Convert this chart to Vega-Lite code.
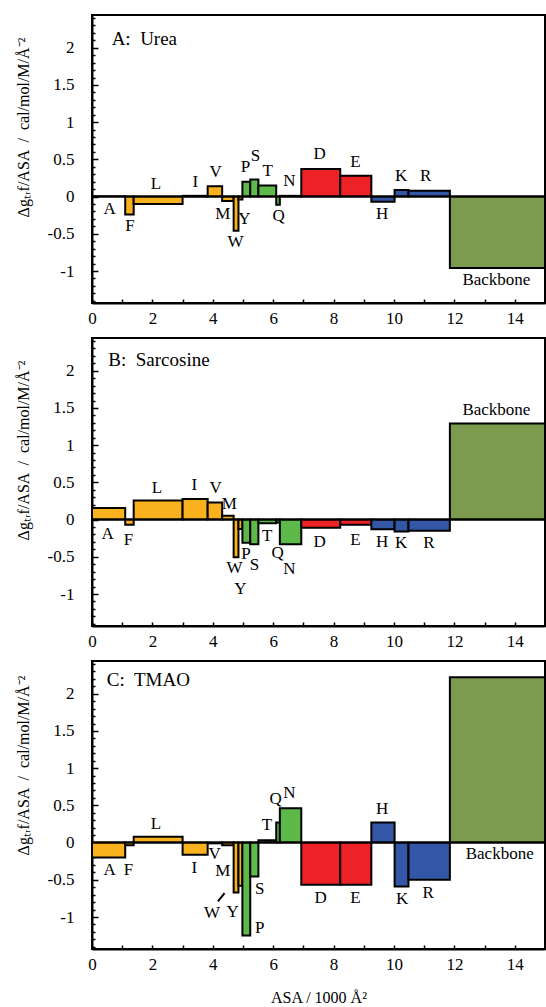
{
"$schema":"https://vega.github.io/schema/vega-lite/v6.json",
"padding":{"left":14,"top":7,"right":0,"bottom":0},
"bounds":"flush",
"spacing":35,
"datasets":{
"bars":[
{"panel":"A","r":"A","x0":0,"x1":1.10,"grp":"np","v":0.005},
{"panel":"A","r":"F","x0":1.10,"x1":1.38,"grp":"np","v":-0.24},
{"panel":"A","r":"L","x0":1.38,"x1":3.00,"grp":"np","v":-0.10},
{"panel":"A","r":"I","x0":3.00,"x1":3.83,"grp":"np","v":0.01},
{"panel":"A","r":"V","x0":3.83,"x1":4.31,"grp":"np","v":0.14},
{"panel":"A","r":"M","x0":4.31,"x1":4.69,"grp":"np","v":-0.06},
{"panel":"A","r":"W","x0":4.69,"x1":4.85,"grp":"np","v":-0.46},
{"panel":"A","r":"Y","x0":4.85,"x1":4.98,"grp":"np","v":-0.04},
{"panel":"A","r":"P","x0":4.98,"x1":5.24,"grp":"p","v":0.20},
{"panel":"A","r":"S","x0":5.24,"x1":5.51,"grp":"p","v":0.23},
{"panel":"A","r":"T","x0":5.51,"x1":6.10,"grp":"p","v":0.15},
{"panel":"A","r":"Q","x0":6.10,"x1":6.22,"grp":"p","v":-0.11},
{"panel":"A","r":"N","x0":6.22,"x1":6.93,"grp":"p","v":0.01},
{"panel":"A","r":"D","x0":6.93,"x1":8.22,"grp":"neg","v":0.37},
{"panel":"A","r":"E","x0":8.22,"x1":9.25,"grp":"neg","v":0.28},
{"panel":"A","r":"H","x0":9.25,"x1":10.02,"grp":"pos","v":-0.07},
{"panel":"A","r":"K","x0":10.02,"x1":10.48,"grp":"pos","v":0.09},
{"panel":"A","r":"R","x0":10.48,"x1":11.85,"grp":"pos","v":0.08},
{"panel":"A","r":"Backbone","x0":11.85,"x1":15,"grp":"bb","v":-0.96},
{"panel":"B","r":"A","x0":0,"x1":1.10,"grp":"np","v":0.155},
{"panel":"B","r":"F","x0":1.10,"x1":1.38,"grp":"np","v":-0.07},
{"panel":"B","r":"L","x0":1.38,"x1":3.00,"grp":"np","v":0.255},
{"panel":"B","r":"I","x0":3.00,"x1":3.83,"grp":"np","v":0.275},
{"panel":"B","r":"V","x0":3.83,"x1":4.31,"grp":"np","v":0.23},
{"panel":"B","r":"M","x0":4.31,"x1":4.69,"grp":"np","v":0.05},
{"panel":"B","r":"W","x0":4.69,"x1":4.85,"grp":"np","v":-0.505},
{"panel":"B","r":"Y","x0":4.85,"x1":4.98,"grp":"np","v":-0.125},
{"panel":"B","r":"P","x0":4.98,"x1":5.24,"grp":"p","v":-0.31},
{"panel":"B","r":"S","x0":5.24,"x1":5.51,"grp":"p","v":-0.33},
{"panel":"B","r":"T","x0":5.51,"x1":6.10,"grp":"p","v":-0.05},
{"panel":"B","r":"Q","x0":6.10,"x1":6.22,"grp":"p","v":-0.04},
{"panel":"B","r":"N","x0":6.22,"x1":6.93,"grp":"p","v":-0.33},
{"panel":"B","r":"D","x0":6.93,"x1":8.22,"grp":"neg","v":-0.11},
{"panel":"B","r":"E","x0":8.22,"x1":9.25,"grp":"neg","v":-0.07},
{"panel":"B","r":"H","x0":9.25,"x1":10.02,"grp":"pos","v":-0.13},
{"panel":"B","r":"K","x0":10.02,"x1":10.48,"grp":"pos","v":-0.16},
{"panel":"B","r":"R","x0":10.48,"x1":11.85,"grp":"pos","v":-0.15},
{"panel":"B","r":"Backbone","x0":11.85,"x1":15,"grp":"bb","v":1.29},
{"panel":"C","r":"A","x0":0,"x1":1.10,"grp":"np","v":-0.20},
{"panel":"C","r":"F","x0":1.10,"x1":1.38,"grp":"np","v":-0.035},
{"panel":"C","r":"L","x0":1.38,"x1":3.00,"grp":"np","v":0.08},
{"panel":"C","r":"I","x0":3.00,"x1":3.83,"grp":"np","v":-0.165},
{"panel":"C","r":"V","x0":3.83,"x1":4.31,"grp":"np","v":-0.01},
{"panel":"C","r":"M","x0":4.31,"x1":4.69,"grp":"np","v":-0.035},
{"panel":"C","r":"W","x0":4.69,"x1":4.85,"grp":"np","v":-0.67},
{"panel":"C","r":"Y","x0":4.85,"x1":4.98,"grp":"np","v":-0.58},
{"panel":"C","r":"P","x0":4.98,"x1":5.24,"grp":"p","v":-1.25},
{"panel":"C","r":"S","x0":5.24,"x1":5.51,"grp":"p","v":-0.455},
{"panel":"C","r":"T","x0":5.51,"x1":6.10,"grp":"p","v":0.03},
{"panel":"C","r":"Q","x0":6.10,"x1":6.22,"grp":"p","v":0.27},
{"panel":"C","r":"N","x0":6.22,"x1":6.93,"grp":"p","v":0.46},
{"panel":"C","r":"D","x0":6.93,"x1":8.22,"grp":"neg","v":-0.567},
{"panel":"C","r":"E","x0":8.22,"x1":9.25,"grp":"neg","v":-0.567},
{"panel":"C","r":"H","x0":9.25,"x1":10.02,"grp":"pos","v":0.27},
{"panel":"C","r":"K","x0":10.02,"x1":10.48,"grp":"pos","v":-0.59},
{"panel":"C","r":"R","x0":10.48,"x1":11.85,"grp":"pos","v":-0.50},
{"panel":"C","r":"Backbone","x0":11.85,"x1":15,"grp":"bb","v":2.22}
],
"labels":[
{"panel":"A","t":"A","lx":0.58,"ly":-0.17},{"panel":"A","t":"F","lx":1.26,"ly":-0.39},{"panel":"A","t":"L","lx":2.12,"ly":0.165},{"panel":"A","t":"I","lx":3.42,"ly":0.20},{"panel":"A","t":"V","lx":4.09,"ly":0.33},{"panel":"A","t":"M","lx":4.33,"ly":-0.23},{"panel":"A","t":"W","lx":4.75,"ly":-0.61},{"panel":"A","t":"Y","lx":5.05,"ly":-0.30},{"panel":"A","t":"P","lx":5.08,"ly":0.40},{"panel":"A","t":"S","lx":5.41,"ly":0.55},{"panel":"A","t":"T","lx":5.82,"ly":0.34},{"panel":"A","t":"N","lx":6.54,"ly":0.21},{"panel":"A","t":"Q","lx":6.18,"ly":-0.26},{"panel":"A","t":"D","lx":7.54,"ly":0.57},{"panel":"A","t":"E","lx":8.72,"ly":0.47},{"panel":"A","t":"H","lx":9.61,"ly":-0.24},{"panel":"A","t":"K","lx":10.24,"ly":0.28},{"panel":"A","t":"R","lx":11.05,"ly":0.28},{"panel":"A","t":"Backbone","lx":13.39,"ly":-1.12},
{"panel":"B","t":"A","lx":0.52,"ly":-0.19},{"panel":"B","t":"F","lx":1.21,"ly":-0.28},{"panel":"B","t":"L","lx":2.15,"ly":0.43},{"panel":"B","t":"I","lx":3.39,"ly":0.47},{"panel":"B","t":"V","lx":4.09,"ly":0.43},{"panel":"B","t":"M","lx":4.55,"ly":0.21},{"panel":"B","t":"W","lx":4.72,"ly":-0.65},{"panel":"B","t":"Y","lx":4.91,"ly":-0.93},{"panel":"B","t":"P","lx":5.10,"ly":-0.46},{"panel":"B","t":"S","lx":5.38,"ly":-0.61},{"panel":"B","t":"T","lx":5.80,"ly":-0.22},{"panel":"B","t":"Q","lx":6.15,"ly":-0.45},{"panel":"B","t":"N","lx":6.54,"ly":-0.66},{"panel":"B","t":"D","lx":7.54,"ly":-0.30},{"panel":"B","t":"E","lx":8.72,"ly":-0.27},{"panel":"B","t":"H","lx":9.61,"ly":-0.30},{"panel":"B","t":"K","lx":10.24,"ly":-0.32},{"panel":"B","t":"R","lx":11.16,"ly":-0.32},{"panel":"B","t":"Backbone","lx":13.39,"ly":1.47},
{"panel":"C","t":"A","lx":0.58,"ly":-0.37},{"panel":"C","t":"F","lx":1.21,"ly":-0.37},{"panel":"C","t":"L","lx":2.12,"ly":0.25},{"panel":"C","t":"I","lx":3.39,"ly":-0.335},{"panel":"C","t":"V","lx":4.06,"ly":-0.15},{"panel":"C","t":"M","lx":4.33,"ly":-0.38},{"panel":"C","t":"W","lx":3.97,"ly":-0.95},{"panel":"C","t":"Y","lx":4.66,"ly":-0.93},{"panel":"C","t":"P","lx":5.55,"ly":-1.15},{"panel":"C","t":"S","lx":5.55,"ly":-0.62},{"panel":"C","t":"T","lx":5.79,"ly":0.24},{"panel":"C","t":"Q","lx":6.08,"ly":0.58},{"panel":"C","t":"N","lx":6.54,"ly":0.67},{"panel":"C","t":"D","lx":7.57,"ly":-0.74},{"panel":"C","t":"E","lx":8.72,"ly":-0.74},{"panel":"C","t":"H","lx":9.61,"ly":0.45},{"panel":"C","t":"K","lx":10.27,"ly":-0.76},{"panel":"C","t":"R","lx":11.13,"ly":-0.68},{"panel":"C","t":"Backbone","lx":13.5,"ly":-0.155}
],
"titles":[
{"panel":"A","t":"A:\u00a0 Urea","lx":0.65,"ly":2.12},
{"panel":"B","t":"B:\u00a0 Sarcosine","lx":0.54,"ly":2.15},
{"panel":"C","t":"C:\u00a0 TMAO","lx":0.49,"ly":2.19}
],
"pointer":[{"px":4.17,"py":-0.79,"px2":4.39,"py2":-0.68}]
},
"vconcat":[
{"width":453,"height":288,"layer":[
{"data":{"name":"bars"},"transform":[{"filter":"datum.panel==='A'"}],"mark":{"type":"rect","stroke":"black","strokeWidth":2},
"encoding":{
"x":{"field":"x0","type":"quantitative","scale":{"domain":[0,15],"nice":false,"zero":false},"axis":{"values":[0,1,2,3,4,5,6,7,8,9,10,11,12,13,14,15],"tickSize":-4,"labelExpr":"datum.value%2===0 && datum.value<15 ? datum.label : ''","labelPadding":11,"labelOverlap":false,"title":null}},
"x2":{"field":"x1"},
"y":{"field":"v","type":"quantitative","scale":{"domain":[-1.43,2.44],"nice":false,"zero":false},"axis":{"values":[-1.4,-1.3,-1.2,-1.1,-1,-0.9,-0.8,-0.7,-0.6,-0.5,-0.4,-0.3,-0.2,-0.1,0,0.1,0.2,0.3,0.4,0.5,0.6,0.7,0.8,0.9,1,1.1,1.2,1.3,1.4,1.5,1.6,1.7,1.8,1.9,2,2.1,2.2,2.3,2.4],"tickSize":{"condition":{"test":"abs(datum.value*2-round(datum.value*2))<0.001","value":-6},"value":-3},"labelExpr":"abs(datum.value*2-round(datum.value*2))<0.001 ? ''+round(datum.value*10)/10 : ''","labelPadding":24,"labelOverlap":false,"title":"Δgₜᵣf/ASA \u00a0/\u00a0 cal/mol/M/Å⁻²","titlePadding":16,"titleY":112}},
"y2":{"datum":0},
"color":{"field":"grp","type":"nominal","scale":{"domain":["np","p","neg","pos","bb"],"range":["#F9B21D","#5CB94A","#EC2227","#3456A6","#7C9B4F"]},"legend":null}}},
{"data":{"name":"titles"},"transform":[{"filter":"datum.panel==='A'"}],"mark":{"type":"rule","color":"black","strokeWidth":2},"encoding":{"y":{"datum":0,"type":"quantitative","axis":{"values":[-1.4,-1.3,-1.2,-1.1,-1,-0.9,-0.8,-0.7,-0.6,-0.5,-0.4,-0.3,-0.2,-0.1,0,0.1,0.2,0.3,0.4,0.5,0.6,0.7,0.8,0.9,1,1.1,1.2,1.3,1.4,1.5,1.6,1.7,1.8,1.9,2,2.1,2.2,2.3,2.4],"tickSize":{"condition":{"test":"abs(datum.value*2-round(datum.value*2))<0.001","value":-6},"value":-3},"labelExpr":"abs(datum.value*2-round(datum.value*2))<0.001 ? ''+round(datum.value*10)/10 : ''","labelPadding":24,"labelOverlap":false,"title":"Δgₜᵣf/ASA \u00a0/\u00a0 cal/mol/M/Å⁻²","titlePadding":16,"titleY":112}}}},
{"data":{"name":"labels"},"transform":[{"filter":"datum.panel==='A'"}],"mark":{"type":"text","fontSize":17,"align":"center","baseline":"middle","font":"Liberation Serif","color":"black"},"encoding":{
"x":{"field":"lx","type":"quantitative","axis":{"values":[0,1,2,3,4,5,6,7,8,9,10,11,12,13,14,15],"tickSize":-4,"labelExpr":"datum.value%2===0 && datum.value<15 ? datum.label : ''","labelPadding":11,"labelOverlap":false,"title":null}},
"y":{"field":"ly","type":"quantitative","axis":{"values":[-1.4,-1.3,-1.2,-1.1,-1,-0.9,-0.8,-0.7,-0.6,-0.5,-0.4,-0.3,-0.2,-0.1,0,0.1,0.2,0.3,0.4,0.5,0.6,0.7,0.8,0.9,1,1.1,1.2,1.3,1.4,1.5,1.6,1.7,1.8,1.9,2,2.1,2.2,2.3,2.4],"tickSize":{"condition":{"test":"abs(datum.value*2-round(datum.value*2))<0.001","value":-6},"value":-3},"labelExpr":"abs(datum.value*2-round(datum.value*2))<0.001 ? ''+round(datum.value*10)/10 : ''","labelPadding":24,"labelOverlap":false,"title":"Δgₜᵣf/ASA \u00a0/\u00a0 cal/mol/M/Å⁻²","titlePadding":16,"titleY":112}},
"text":{"field":"t"}}},
{"data":{"name":"titles"},"transform":[{"filter":"datum.panel==='A'"}],"mark":{"type":"text","fontSize":19,"align":"left","baseline":"middle","font":"Liberation Serif","color":"black"},"encoding":{
"x":{"field":"lx","type":"quantitative","axis":{"values":[0,1,2,3,4,5,6,7,8,9,10,11,12,13,14,15],"tickSize":-4,"labelExpr":"datum.value%2===0 && datum.value<15 ? datum.label : ''","labelPadding":11,"labelOverlap":false,"title":null}},
"y":{"field":"ly","type":"quantitative","axis":{"values":[-1.4,-1.3,-1.2,-1.1,-1,-0.9,-0.8,-0.7,-0.6,-0.5,-0.4,-0.3,-0.2,-0.1,0,0.1,0.2,0.3,0.4,0.5,0.6,0.7,0.8,0.9,1,1.1,1.2,1.3,1.4,1.5,1.6,1.7,1.8,1.9,2,2.1,2.2,2.3,2.4],"tickSize":{"condition":{"test":"abs(datum.value*2-round(datum.value*2))<0.001","value":-6},"value":-3},"labelExpr":"abs(datum.value*2-round(datum.value*2))<0.001 ? ''+round(datum.value*10)/10 : ''","labelPadding":24,"labelOverlap":false,"title":"Δgₜᵣf/ASA \u00a0/\u00a0 cal/mol/M/Å⁻²","titlePadding":16,"titleY":112}},
"text":{"field":"t"}}}
]},
{"width":453,"height":288,"layer":[
{"data":{"name":"bars"},"transform":[{"filter":"datum.panel==='B'"}],"mark":{"type":"rect","stroke":"black","strokeWidth":2},
"encoding":{
"x":{"field":"x0","type":"quantitative","scale":{"domain":[0,15],"nice":false,"zero":false},"axis":{"values":[0,1,2,3,4,5,6,7,8,9,10,11,12,13,14,15],"tickSize":-4,"labelExpr":"datum.value%2===0 && datum.value<15 ? datum.label : ''","labelPadding":11,"labelOverlap":false,"title":null}},
"x2":{"field":"x1"},
"y":{"field":"v","type":"quantitative","scale":{"domain":[-1.43,2.44],"nice":false,"zero":false},"axis":{"values":[-1.4,-1.3,-1.2,-1.1,-1,-0.9,-0.8,-0.7,-0.6,-0.5,-0.4,-0.3,-0.2,-0.1,0,0.1,0.2,0.3,0.4,0.5,0.6,0.7,0.8,0.9,1,1.1,1.2,1.3,1.4,1.5,1.6,1.7,1.8,1.9,2,2.1,2.2,2.3,2.4],"tickSize":{"condition":{"test":"abs(datum.value*2-round(datum.value*2))<0.001","value":-6},"value":-3},"labelExpr":"abs(datum.value*2-round(datum.value*2))<0.001 ? ''+round(datum.value*10)/10 : ''","labelPadding":24,"labelOverlap":false,"title":"Δgₜᵣf/ASA \u00a0/\u00a0 cal/mol/M/Å⁻²","titlePadding":16,"titleY":112}},
"y2":{"datum":0},
"color":{"field":"grp","type":"nominal","scale":{"domain":["np","p","neg","pos","bb"],"range":["#F9B21D","#5CB94A","#EC2227","#3456A6","#7C9B4F"]},"legend":null}}},
{"data":{"name":"titles"},"transform":[{"filter":"datum.panel==='B'"}],"mark":{"type":"rule","color":"black","strokeWidth":2},"encoding":{"y":{"datum":0,"type":"quantitative","axis":{"values":[-1.4,-1.3,-1.2,-1.1,-1,-0.9,-0.8,-0.7,-0.6,-0.5,-0.4,-0.3,-0.2,-0.1,0,0.1,0.2,0.3,0.4,0.5,0.6,0.7,0.8,0.9,1,1.1,1.2,1.3,1.4,1.5,1.6,1.7,1.8,1.9,2,2.1,2.2,2.3,2.4],"tickSize":{"condition":{"test":"abs(datum.value*2-round(datum.value*2))<0.001","value":-6},"value":-3},"labelExpr":"abs(datum.value*2-round(datum.value*2))<0.001 ? ''+round(datum.value*10)/10 : ''","labelPadding":24,"labelOverlap":false,"title":"Δgₜᵣf/ASA \u00a0/\u00a0 cal/mol/M/Å⁻²","titlePadding":16,"titleY":112}}}},
{"data":{"name":"labels"},"transform":[{"filter":"datum.panel==='B'"}],"mark":{"type":"text","fontSize":17,"align":"center","baseline":"middle","font":"Liberation Serif","color":"black"},"encoding":{
"x":{"field":"lx","type":"quantitative","axis":{"values":[0,1,2,3,4,5,6,7,8,9,10,11,12,13,14,15],"tickSize":-4,"labelExpr":"datum.value%2===0 && datum.value<15 ? datum.label : ''","labelPadding":11,"labelOverlap":false,"title":null}},
"y":{"field":"ly","type":"quantitative","axis":{"values":[-1.4,-1.3,-1.2,-1.1,-1,-0.9,-0.8,-0.7,-0.6,-0.5,-0.4,-0.3,-0.2,-0.1,0,0.1,0.2,0.3,0.4,0.5,0.6,0.7,0.8,0.9,1,1.1,1.2,1.3,1.4,1.5,1.6,1.7,1.8,1.9,2,2.1,2.2,2.3,2.4],"tickSize":{"condition":{"test":"abs(datum.value*2-round(datum.value*2))<0.001","value":-6},"value":-3},"labelExpr":"abs(datum.value*2-round(datum.value*2))<0.001 ? ''+round(datum.value*10)/10 : ''","labelPadding":24,"labelOverlap":false,"title":"Δgₜᵣf/ASA \u00a0/\u00a0 cal/mol/M/Å⁻²","titlePadding":16,"titleY":112}},
"text":{"field":"t"}}},
{"data":{"name":"titles"},"transform":[{"filter":"datum.panel==='B'"}],"mark":{"type":"text","fontSize":19,"align":"left","baseline":"middle","font":"Liberation Serif","color":"black"},"encoding":{
"x":{"field":"lx","type":"quantitative","axis":{"values":[0,1,2,3,4,5,6,7,8,9,10,11,12,13,14,15],"tickSize":-4,"labelExpr":"datum.value%2===0 && datum.value<15 ? datum.label : ''","labelPadding":11,"labelOverlap":false,"title":null}},
"y":{"field":"ly","type":"quantitative","axis":{"values":[-1.4,-1.3,-1.2,-1.1,-1,-0.9,-0.8,-0.7,-0.6,-0.5,-0.4,-0.3,-0.2,-0.1,0,0.1,0.2,0.3,0.4,0.5,0.6,0.7,0.8,0.9,1,1.1,1.2,1.3,1.4,1.5,1.6,1.7,1.8,1.9,2,2.1,2.2,2.3,2.4],"tickSize":{"condition":{"test":"abs(datum.value*2-round(datum.value*2))<0.001","value":-6},"value":-3},"labelExpr":"abs(datum.value*2-round(datum.value*2))<0.001 ? ''+round(datum.value*10)/10 : ''","labelPadding":24,"labelOverlap":false,"title":"Δgₜᵣf/ASA \u00a0/\u00a0 cal/mol/M/Å⁻²","titlePadding":16,"titleY":112}},
"text":{"field":"t"}}}
]},
{"width":453,"height":288,"layer":[
{"data":{"name":"bars"},"transform":[{"filter":"datum.panel==='C'"}],"mark":{"type":"rect","stroke":"black","strokeWidth":2},
"encoding":{
"x":{"field":"x0","type":"quantitative","scale":{"domain":[0,15],"nice":false,"zero":false},"axis":{"values":[0,1,2,3,4,5,6,7,8,9,10,11,12,13,14,15],"tickSize":-4,"labelExpr":"datum.value%2===0 && datum.value<15 ? datum.label : ''","labelPadding":11,"labelOverlap":false,"title":"ASA / 1000 Å²","titlePadding":17}},
"x2":{"field":"x1"},
"y":{"field":"v","type":"quantitative","scale":{"domain":[-1.43,2.44],"nice":false,"zero":false},"axis":{"values":[-1.4,-1.3,-1.2,-1.1,-1,-0.9,-0.8,-0.7,-0.6,-0.5,-0.4,-0.3,-0.2,-0.1,0,0.1,0.2,0.3,0.4,0.5,0.6,0.7,0.8,0.9,1,1.1,1.2,1.3,1.4,1.5,1.6,1.7,1.8,1.9,2,2.1,2.2,2.3,2.4],"tickSize":{"condition":{"test":"abs(datum.value*2-round(datum.value*2))<0.001","value":-6},"value":-3},"labelExpr":"abs(datum.value*2-round(datum.value*2))<0.001 ? ''+round(datum.value*10)/10 : ''","labelPadding":24,"labelOverlap":false,"title":"Δgₜᵣf/ASA \u00a0/\u00a0 cal/mol/M/Å⁻²","titlePadding":16,"titleY":104}},
"y2":{"datum":0},
"color":{"field":"grp","type":"nominal","scale":{"domain":["np","p","neg","pos","bb"],"range":["#F9B21D","#5CB94A","#EC2227","#3456A6","#7C9B4F"]},"legend":null}}},
{"data":{"name":"titles"},"transform":[{"filter":"datum.panel==='C'"}],"mark":{"type":"rule","color":"black","strokeWidth":2},"encoding":{"y":{"datum":0,"type":"quantitative","axis":{"values":[-1.4,-1.3,-1.2,-1.1,-1,-0.9,-0.8,-0.7,-0.6,-0.5,-0.4,-0.3,-0.2,-0.1,0,0.1,0.2,0.3,0.4,0.5,0.6,0.7,0.8,0.9,1,1.1,1.2,1.3,1.4,1.5,1.6,1.7,1.8,1.9,2,2.1,2.2,2.3,2.4],"tickSize":{"condition":{"test":"abs(datum.value*2-round(datum.value*2))<0.001","value":-6},"value":-3},"labelExpr":"abs(datum.value*2-round(datum.value*2))<0.001 ? ''+round(datum.value*10)/10 : ''","labelPadding":24,"labelOverlap":false,"title":"Δgₜᵣf/ASA \u00a0/\u00a0 cal/mol/M/Å⁻²","titlePadding":16,"titleY":104}}}},
{"data":{"name":"pointer"},"mark":{"type":"rule","color":"black","strokeWidth":2},"encoding":{
"x":{"field":"px","type":"quantitative","axis":{"values":[0,1,2,3,4,5,6,7,8,9,10,11,12,13,14,15],"tickSize":-4,"labelExpr":"datum.value%2===0 && datum.value<15 ? datum.label : ''","labelPadding":11,"labelOverlap":false,"title":"ASA / 1000 Å²","titlePadding":17}},
"y":{"field":"py","type":"quantitative","axis":{"values":[-1.4,-1.3,-1.2,-1.1,-1,-0.9,-0.8,-0.7,-0.6,-0.5,-0.4,-0.3,-0.2,-0.1,0,0.1,0.2,0.3,0.4,0.5,0.6,0.7,0.8,0.9,1,1.1,1.2,1.3,1.4,1.5,1.6,1.7,1.8,1.9,2,2.1,2.2,2.3,2.4],"tickSize":{"condition":{"test":"abs(datum.value*2-round(datum.value*2))<0.001","value":-6},"value":-3},"labelExpr":"abs(datum.value*2-round(datum.value*2))<0.001 ? ''+round(datum.value*10)/10 : ''","labelPadding":24,"labelOverlap":false,"title":"Δgₜᵣf/ASA \u00a0/\u00a0 cal/mol/M/Å⁻²","titlePadding":16,"titleY":104}},
"x2":{"field":"px2"},"y2":{"field":"py2"}}},
{"data":{"name":"labels"},"transform":[{"filter":"datum.panel==='C'"}],"mark":{"type":"text","fontSize":17,"align":"center","baseline":"middle","font":"Liberation Serif","color":"black"},"encoding":{
"x":{"field":"lx","type":"quantitative","axis":{"values":[0,1,2,3,4,5,6,7,8,9,10,11,12,13,14,15],"tickSize":-4,"labelExpr":"datum.value%2===0 && datum.value<15 ? datum.label : ''","labelPadding":11,"labelOverlap":false,"title":"ASA / 1000 Å²","titlePadding":17}},
"y":{"field":"ly","type":"quantitative","axis":{"values":[-1.4,-1.3,-1.2,-1.1,-1,-0.9,-0.8,-0.7,-0.6,-0.5,-0.4,-0.3,-0.2,-0.1,0,0.1,0.2,0.3,0.4,0.5,0.6,0.7,0.8,0.9,1,1.1,1.2,1.3,1.4,1.5,1.6,1.7,1.8,1.9,2,2.1,2.2,2.3,2.4],"tickSize":{"condition":{"test":"abs(datum.value*2-round(datum.value*2))<0.001","value":-6},"value":-3},"labelExpr":"abs(datum.value*2-round(datum.value*2))<0.001 ? ''+round(datum.value*10)/10 : ''","labelPadding":24,"labelOverlap":false,"title":"Δgₜᵣf/ASA \u00a0/\u00a0 cal/mol/M/Å⁻²","titlePadding":16,"titleY":104}},
"text":{"field":"t"}}},
{"data":{"name":"titles"},"transform":[{"filter":"datum.panel==='C'"}],"mark":{"type":"text","fontSize":19,"align":"left","baseline":"middle","font":"Liberation Serif","color":"black"},"encoding":{
"x":{"field":"lx","type":"quantitative","axis":{"values":[0,1,2,3,4,5,6,7,8,9,10,11,12,13,14,15],"tickSize":-4,"labelExpr":"datum.value%2===0 && datum.value<15 ? datum.label : ''","labelPadding":11,"labelOverlap":false,"title":"ASA / 1000 Å²","titlePadding":17}},
"y":{"field":"ly","type":"quantitative","axis":{"values":[-1.4,-1.3,-1.2,-1.1,-1,-0.9,-0.8,-0.7,-0.6,-0.5,-0.4,-0.3,-0.2,-0.1,0,0.1,0.2,0.3,0.4,0.5,0.6,0.7,0.8,0.9,1,1.1,1.2,1.3,1.4,1.5,1.6,1.7,1.8,1.9,2,2.1,2.2,2.3,2.4],"tickSize":{"condition":{"test":"abs(datum.value*2-round(datum.value*2))<0.001","value":-6},"value":-3},"labelExpr":"abs(datum.value*2-round(datum.value*2))<0.001 ? ''+round(datum.value*10)/10 : ''","labelPadding":24,"labelOverlap":false,"title":"Δgₜᵣf/ASA \u00a0/\u00a0 cal/mol/M/Å⁻²","titlePadding":16,"titleY":104}},
"text":{"field":"t"}}}
]}
],
"config":{
"font":"Liberation Serif",
"view":{"stroke":"black","strokeWidth":2},
"axis":{"grid":false,"domainColor":"black","domainWidth":2,"tickColor":"black","tickWidth":1.5,"labelColor":"black","labelFont":"Liberation Serif","labelFontSize":17,"titleFont":"Liberation Serif","titleFontSize":16,"titleFontWeight":"normal","titleColor":"black","labelOverlap":false,"labelFlush":false}
}
}
